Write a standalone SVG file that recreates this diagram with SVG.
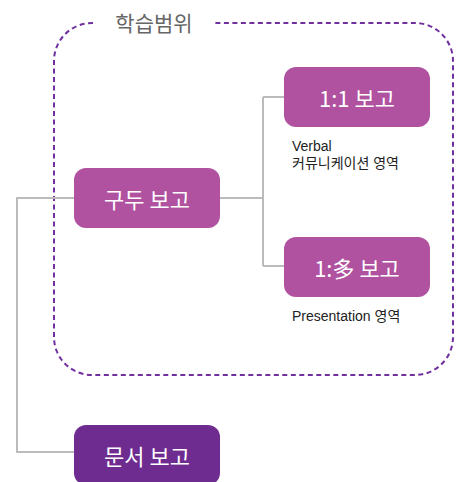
<svg xmlns="http://www.w3.org/2000/svg" width="456" height="482" viewBox="0 0 456 482">
<style>
.box{fill:#b052a0}
.dark{fill:#6e2b90}
.bt{font-family:"Noto Sans CJK KR","Noto Sans",sans-serif;font-size:22px;fill:#fff;text-anchor:middle;dominant-baseline:central}
.lbl{font-family:"Liberation Sans","Noto Sans CJK KR",sans-serif;font-size:14px;fill:#222}
.conn{fill:none;stroke:#bbbbbb;stroke-width:2}
</style>
<rect width="456" height="482" fill="#fff"/>
<g id="scope">
<path d="M93,23 H92 A38,38 0 0 0 54,61 V337 A38,38 0 0 0 92,375 H415 A38,38 0 0 0 453,337 V61 A38,38 0 0 0 415,23 H215" fill="none" stroke="#7030a0" stroke-width="2" stroke-dasharray="5,3.5"/>
<text x="154" y="31" font-family="'Noto Sans CJK KR',sans-serif" font-size="21" fill="#666" text-anchor="middle">학습범위</text>
</g>
<g id="connectors">
<path class="conn" d="M220,198 H263 M263,97 V266 M263,97 H284 M263,266 H284"/>
<path class="conn" d="M74,198 H17 V452 H74"/>
</g>
<g id="oral">
<rect class="box" x="74" y="168" width="146" height="60" rx="12"/>
<text class="bt" x="147" y="198">구두 보고</text>
</g>
<g id="one2one">
<rect class="box" x="284" y="67" width="146" height="60" rx="12"/>
<text class="bt" x="357" y="97">1:1 보고</text>
<text class="lbl" x="292" y="151">Verbal</text>
<text class="lbl" x="292" y="168">커뮤니케이션 영역</text>
</g>
<g id="one2many">
<rect class="box" x="284" y="237" width="146" height="60" rx="12"/>
<text class="bt" x="357" y="267">1:多 보고</text>
<text class="lbl" x="292" y="321">Presentation 영역</text>
</g>
<g id="written">
<rect class="dark" x="74" y="425" width="146" height="60" rx="12"/>
<text class="bt" x="147" y="455">문서 보고</text>
</g>
</svg>
